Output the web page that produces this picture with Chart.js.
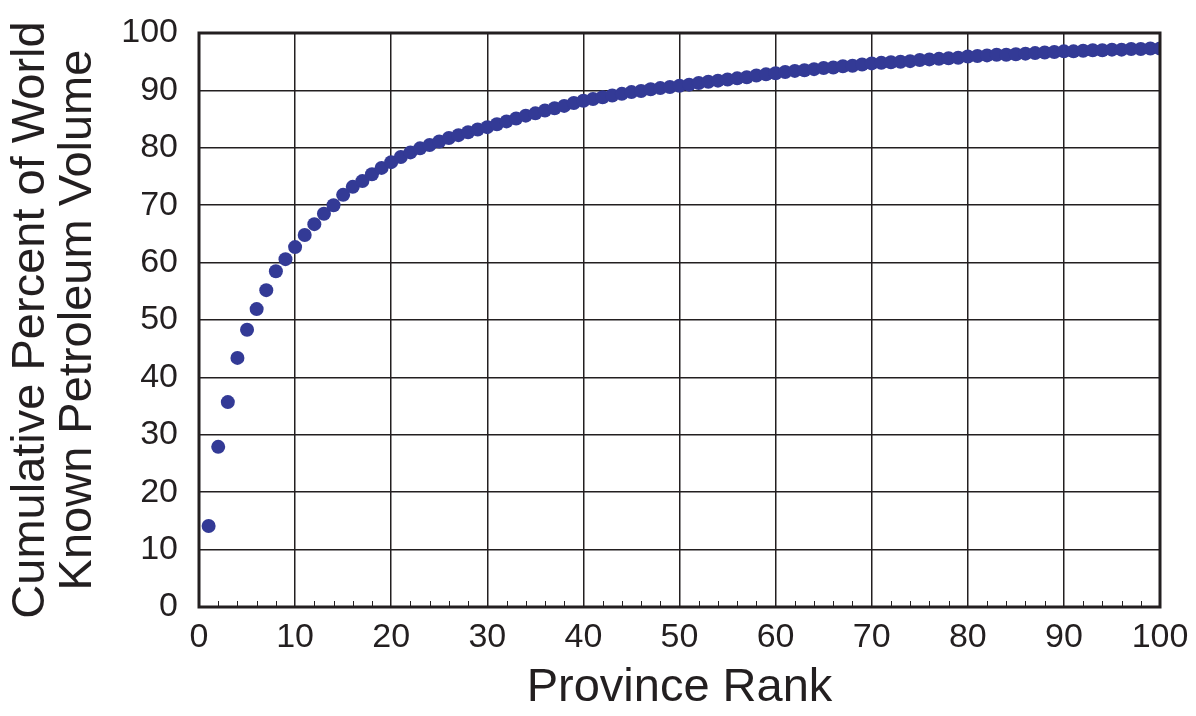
<!DOCTYPE html>
<html>
<head>
<meta charset="utf-8">
<script src="https://cdn.jsdelivr.net/npm/chart.js@4/dist/chart.umd.min.js"></script>
<style>
  html, body { margin: 0; padding: 0; background: #fff; }
  #wrap { width: 1196px; height: 716px; }
</style>
</head>
<body>
<div id="wrap"><canvas id="rankChart" width="1196" height="716"></canvas></div>
<script>
// province rank (x) and cumulative percent of world known petroleum volume (y)
const ranks = [
  1, 2, 3, 4, 5, 6, 7, 8, 9, 10,
  11, 12, 13, 14, 15, 16, 17, 18, 19, 20,
  21, 22, 23, 24, 25, 26, 27, 28, 29, 30,
  31, 32, 33, 34, 35, 36, 37, 38, 39, 40,
  41, 42, 43, 44, 45, 46, 47, 48, 49, 50,
  51, 52, 53, 54, 55, 56, 57, 58, 59, 60,
  61, 62, 63, 64, 65, 66, 67, 68, 69, 70,
  71, 72, 73, 74, 75, 76, 77, 78, 79, 80,
  81, 82, 83, 84, 85, 86, 87, 88, 89, 90,
  91, 92, 93, 94, 95, 96, 97, 98, 99, 100
];
const cumulativePercent = [
  14.1, 27.9, 35.7, 43.4, 48.3, 51.9, 55.2, 58.5, 60.6, 62.7,
  64.8, 66.7, 68.5, 70.0, 71.8, 73.2, 74.2, 75.4, 76.5, 77.5,
  78.4, 79.2, 79.9, 80.5, 81.1, 81.7, 82.2, 82.7, 83.2, 83.6,
  84.1, 84.6, 85.1, 85.6, 86.0, 86.5, 86.9, 87.3, 87.8, 88.2,
  88.5, 88.8, 89.1, 89.4, 89.7, 89.9, 90.2, 90.4, 90.6, 90.8,
  91.0, 91.3, 91.5, 91.7, 91.9, 92.1, 92.3, 92.6, 92.8, 93.0,
  93.2, 93.4, 93.5, 93.7, 93.9, 94.0, 94.2, 94.3, 94.5, 94.7,
  94.8, 94.9, 95.0, 95.1, 95.3, 95.4, 95.5, 95.6, 95.7, 95.9,
  96.0, 96.1, 96.2, 96.2, 96.3, 96.4, 96.5, 96.6, 96.7, 96.8,
  96.8, 96.9, 97.0, 97.0, 97.1, 97.1, 97.2, 97.2, 97.3, 97.3
];
const xTicks = [0, 10, 20, 30, 40, 50, 60, 70, 80, 90, 100];
const yTicks = [0, 10, 20, 30, 40, 50, 60, 70, 80, 90, 100];
const xMinorStep = 2;

const ink = '#231f20';
const fontFamily = '"Liberation Sans", Arial, Helvetica, sans-serif';

// frame round the plot plus the small minor ticks along the bottom axis
const framePlugin = {
  id: 'frame',
  afterDraw(chart) {
    const {ctx, chartArea, scales} = chart;
    ctx.save();
    ctx.strokeStyle = ink;
    ctx.lineWidth = 1;
    for (let v = xTicks[0]; v <= xTicks[xTicks.length - 1]; v += xMinorStep) {
      if (v % 10 === 0) continue;
      const px = Math.round(scales.x.getPixelForValue(v)) + 0.5;
      ctx.beginPath();
      ctx.moveTo(px, chartArea.bottom);
      ctx.lineTo(px, chartArea.bottom - 6);
      ctx.stroke();
    }
    ctx.lineWidth = 3;
    ctx.strokeRect(chartArea.left, chartArea.top,
      chartArea.right - chartArea.left, chartArea.bottom - chartArea.top);
    ctx.restore();
  }
};

const ctx = document.getElementById('rankChart').getContext('2d');
new Chart(ctx, {
  type: 'scatter',
  plugins: [framePlugin],
  data: {
    datasets: [{
      data: ranks.map((r, i) => ({x: r, y: cumulativePercent[i]})),
      backgroundColor: '#333a96',
      borderColor: '#333a96',
      borderWidth: 0,
      pointRadius: 7,
      pointHoverRadius: 7
    }]
  },
  options: {
    responsive: false,
    animation: false,
    layout: { padding: { top: 33, right: 36, bottom: 0, left: 0 } },
    plugins: { legend: { display: false }, tooltip: { enabled: false } },
    scales: {
      x: {
        type: 'linear',
        min: 0,
        max: 100,
        afterBuildTicks: (scale) => { scale.ticks = xTicks.map(v => ({value: v})); },
        afterFit: (scale) => { scale.height = 109; },
        grid: { color: ink, lineWidth: 1.5, drawTicks: true, tickLength: 7, tickColor: 'rgba(0,0,0,0)' },
        border: { display: false },
        ticks: {
          color: ink,
          padding: 3,
          maxRotation: 0,
          font: { family: fontFamily, size: 34 }
        },
        title: {
          display: true,
          text: 'Province Rank',
          color: ink,
          padding: { top: 0, bottom: 0 },
          font: { family: fontFamily, size: 47, lineHeight: 1.2 }
        }
      },
      y: {
        min: 0,
        max: 100,
        afterBuildTicks: (scale) => { scale.ticks = yTicks.map(v => ({value: v})); },
        afterFit: (scale) => { scale.width = 199; },
        grid: { color: ink, lineWidth: 1.5, drawTicks: true, tickLength: 18, tickColor: 'rgba(0,0,0,0)' },
        border: { display: false },
        ticks: {
          color: ink,
          padding: 3,
          font: { family: fontFamily, size: 34 }
        },
        title: {
          display: true,
          text: ['Cumulative Percent of World', 'Known Petroleum Volume'],
          color: ink,
          padding: { top: 8, bottom: 0 },
          font: { family: fontFamily, size: 47, lineHeight: 0.99 }
        }
      }
    }
  }
});
</script>
</body>
</html>
